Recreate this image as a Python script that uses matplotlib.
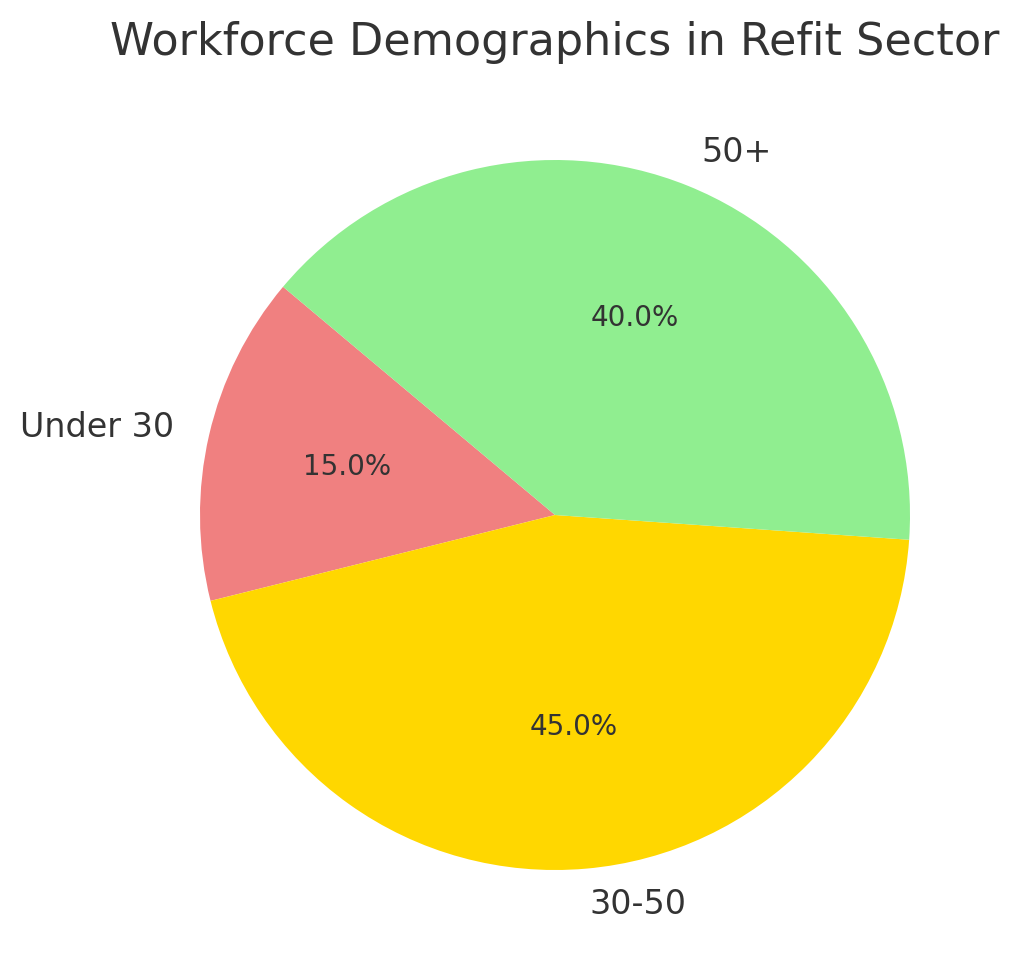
import matplotlib.pyplot as plt

# age groups and their share of the workforce
age_groups = ["Under 30", "30-50", "50+"]
shares = [15, 45, 40]
colors = ["lightcoral", "gold", "lightgreen"]

plt.rcParams["text.color"] = "#333333"
plt.rcParams["font.family"] = "DejaVu Sans"

fig = plt.figure(figsize=(5.1, 4.9), dpi=200)
# square axes placed so the pie sits where it does in the picture
ax = fig.add_axes([111.25 / 1020, 21.25 / 980, 887.5 / 1020, 887.5 / 980])

wedges, texts, autotexts = ax.pie(
    shares,
    labels=age_groups,
    colors=colors,
    autopct="%1.1f%%",
    startangle=140,
    textprops={"fontsize": 12, "color": "#333333"},
)
for t in autotexts:
    t.set_fontsize(10)

ax.set_xlim(-1.25, 1.25)
ax.set_ylim(-1.25, 1.25)
ax.set_aspect("equal")
ax.set_title("Workforce Demographics in Refit Sector", fontsize=16, color="#333333")

plt.savefig("out.png", dpi=200)
